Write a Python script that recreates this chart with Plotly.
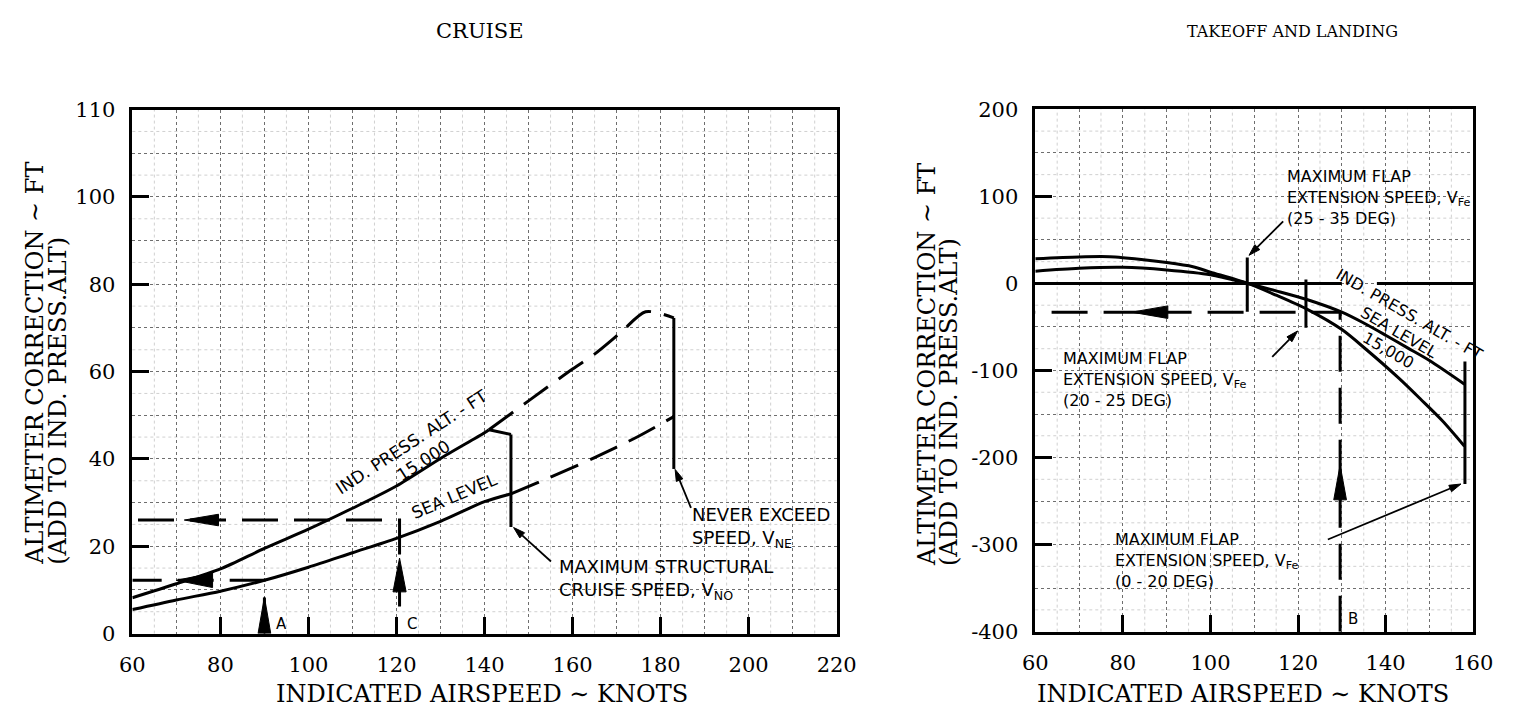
import math
import plotly.graph_objects as go

# ---------------------------------------------------------------------------
# CRUISE: altimeter correction (ft) against indicated airspeed (kt)
# ---------------------------------------------------------------------------
cruise_sl_kt = [60, 70, 80, 90, 100, 110, 120, 130, 140, 146]
cruise_sl_ft = [5.5, 7.7, 9.7, 12.2, 15.2, 18.5, 21.8, 25.7, 30.2, 32.0]
cruise_sl_ext_kt = [146, 155, 165, 175, 183]
cruise_sl_ext_ft = [32.0, 35.8, 40.3, 45.2, 49.7]

cruise_15k_kt = [60, 70, 80, 90, 100, 110, 120, 130, 140, 141]
cruise_15k_ft = [8.2, 11.4, 14.8, 19.5, 23.9, 28.7, 33.8, 40.1, 46.0, 46.7]
cruise_15k_tail_kt = [141, 146]
cruise_15k_tail_ft = [46.7, 45.6]
cruise_15k_ext_kt = [141, 150, 160, 165, 171, 176.6, 183]
cruise_15k_ext_ft = [46.7, 53.3, 60.6, 64.0, 69.0, 73.7, 72.3]

# speed limits: airspeed and the correction span each limit line covers
vno_kt, vno_ft = 146, [24.4, 45.6]
vne_kt, vne_ft = 183, [37.7, 72.3]

cruise_ex_names = ["A", "C"]
cruise_ex_kt = [90, 120.7]
cruise_ex_ft = [12.2, 26.0]

cruise_x_ticks = [60, 80, 100, 120, 140, 160, 180, 200, 220]
cruise_y_ticks = [0, 20, 40, 60, 80, 100, 120]
cruise_y_text = ["0", "20", "40", "60", "80", "100", "110"]

# ---------------------------------------------------------------------------
# TAKEOFF AND LANDING
# ---------------------------------------------------------------------------
tl_sl_kt = [60, 70, 80, 90, 100, 108.5, 115, 122, 130, 135, 140, 145, 150, 158]
tl_sl_ft = [14.1, 17.4, 18.5, 15.5, 10.0, 0.0, -8.5, -18.4, -33.0, -45.5, -59.5,
            -74.0, -88.5, -115.7]
tl_15k_kt = [60, 70, 77, 80, 90, 96, 100, 108.5, 115, 122, 130, 135.5, 143, 148, 153, 158]
tl_15k_ft = [28.5, 30.5, 30.7, 29.6, 24.0, 19.2, 13.0, 0.0, -13.5, -29.5, -53.0, -75.6,
             -108.8, -133.0, -158.0, -187.0]

# zero reference (broken where the curve label crosses it)
tl_zero_kt = [60, 130, None, 138, 160]
tl_zero_ft = [0, 0, None, 0, 0]

# flap extension speed limits
vfe_kt = [108.4, 121.8, 158.1]
vfe_lo_ft = [-32.4, -51.0, -230.4]
vfe_hi_ft = [29.8, 4.6, -89.8]
vfe_deg = ["(25 - 35 DEG)", "(20 - 25 DEG)", "(0 - 20 DEG)"]

tl_ex_names = ["B"]
tl_ex_kt = [129.6]
tl_ex_ft = [-33.0]

tl_x_ticks = [60, 80, 100, 120, 140, 160]
tl_y_ticks = [-400, -300, -200, -100, 0, 100, 200]
tl_y_text = ["-400", "-300", "-200", "-100", "0", "100", "200"]

# ---------------------------------------------------------------------------
# page geometry (pixels)
# ---------------------------------------------------------------------------
W, H = 1518, 720
L_BOX = (122, 842, 101, 643)       # left, right, top, bottom
R_BOX = (1045, 1492.7, 100.7, 641)
L_XR, L_YR = (60, 220), (0, 120)
R_XR, R_YR = (60, 160), (-400, 200)

SERIF = "DejaVu Serif"
SANS = "DejaVu Sans"

fig = go.Figure()
LEFT, RIGHT = ("x", "y"), ("x2", "y2")


def px2paper(x, y):
    return x / W, 1 - y / H


def scale(box, xr, yr):
    return (box[1] - box[0]) / (xr[1] - xr[0]), (box[3] - box[2]) / (yr[1] - yr[0])


kL = scale(L_BOX, L_XR, L_YR)
kR = scale(R_BOX, R_XR, R_YR)


def line(xs, ys, ax, dash=None, width=3, shape="linear"):
    fig.add_trace(go.Scatter(
        x=xs, y=ys, xaxis=ax[0], yaxis=ax[1], mode="lines",
        line=dict(color="black", width=width, dash=dash, shape=shape, smoothing=0.8),
        hoverinfo="skip", showlegend=False, connectgaps=False))


def head(tip, frm, length_px, half_px, ax, k):
    """Filled arrowhead with its point at `tip`, aimed away from `frm`."""
    kx, ky = k
    tx, ty = tip[0] * kx, tip[1] * ky
    fx, fy = frm[0] * kx, frm[1] * ky
    d = math.hypot(tx - fx, ty - fy)
    ux, uy = (tx - fx) / d, (ty - fy) / d
    bx, by = tx - ux * length_px, ty - uy * length_px
    nx, ny = -uy, ux
    pts = [(tx, ty), (bx + nx * half_px, by + ny * half_px),
           (bx - nx * half_px, by - ny * half_px), (tx, ty)]
    fig.add_trace(go.Scatter(
        x=[p[0] / kx for p in pts], y=[p[1] / ky for p in pts],
        xaxis=ax[0], yaxis=ax[1], mode="lines", fill="toself",
        fillcolor="black", line=dict(color="black", width=1),
        hoverinfo="skip", showlegend=False))
    return bx / kx, by / ky


def pointer(tail, tip, ax, k):
    base = head(tip, tail, 12, 3.6, ax, k)
    line([tail[0], base[0]], [tail[1], base[1]], ax, width=1.8)


def label(text, x, y, ax, size=18, xanchor="left", yanchor="middle", angle=0,
          family=SANS, align="left"):
    fig.add_annotation(text=text, x=x, y=y, xref=ax[0], yref=ax[1], showarrow=False,
                       xanchor=xanchor, yanchor=yanchor, textangle=angle, align=align,
                       font=dict(family=family, size=size, color="black"))


def page_text(text, x, y, size, angle=0, family=SERIF, yanchor="middle"):
    px_, py_ = px2paper(x, y)
    fig.add_annotation(text=text, x=px_, y=py_, xref="paper", yref="paper",
                       showarrow=False, xanchor="center", yanchor=yanchor,
                       textangle=angle, font=dict(family=family, size=size, color="black"))


EX_DASH = "36px,16px"
EXT_DASH = "30px,13px"

# ------------------------------- CRUISE ------------------------------------
line(cruise_sl_kt, cruise_sl_ft, LEFT, shape="spline")
line(cruise_sl_ext_kt, cruise_sl_ext_ft, LEFT, dash=EXT_DASH, shape="spline")
line(cruise_15k_kt, cruise_15k_ft, LEFT, shape="spline")
line(cruise_15k_tail_kt, cruise_15k_tail_ft, LEFT)
line(cruise_15k_ext_kt, cruise_15k_ext_ft, LEFT, dash=EXT_DASH, shape="spline")
line([vno_kt, vno_kt], vno_ft, LEFT)
line([vne_kt, vne_kt], vne_ft, LEFT)

# example paths: up from the airspeed, then across to the correction scale
ex_start = {"A": 0.0, "C": 6.2}
for name, kt, ft in zip(cruise_ex_names, cruise_ex_kt, cruise_ex_ft):
    line([kt, kt, L_XR[0]], [ex_start[name], ft, ft], LEFT, dash=EX_DASH)
head((cruise_ex_kt[0], 8.4), (cruise_ex_kt[0], 0), 38, 6.5, LEFT, kL)
head((cruise_ex_kt[1], 17.3), (cruise_ex_kt[1], 0), 35, 6.7, LEFT, kL)
head((70.0, cruise_ex_ft[0]), (90, cruise_ex_ft[0]), 37, 7.5, LEFT, kL)
head((71.8, cruise_ex_ft[1]), (90, cruise_ex_ft[1]), 35, 6.0, LEFT, kL)
label("A", 92.2, 2.2, LEFT, size=15)
label("C", 122.0, 2.2, LEFT, size=15)

label("IND. PRESS. ALT. - FT<br>15,000", 124.8, 41.9, LEFT, size=17,
      xanchor="center", angle=-33, align="center")
label("SEA LEVEL", 133.2, 31.4, LEFT, size=17, xanchor="center", angle=-23)

label("NEVER EXCEED<br>SPEED, V<sub>NE</sub>", 186.6, 24.4, LEFT, size=18)
pointer((186.9, 28.8), (183.3, 37.6), LEFT, kL)
label("MAXIMUM STRUCTURAL<br>CRUISE SPEED, V<sub>NO</sub>", 156.4, 12.4, LEFT, size=18)
pointer((155.1, 16.5), (146.6, 24.3), LEFT, kL)

# ------------------------- TAKEOFF AND LANDING -----------------------------
line(tl_zero_kt, tl_zero_ft, RIGHT)
line(tl_sl_kt, tl_sl_ft, RIGHT, shape="spline")
line(tl_15k_kt, tl_15k_ft, RIGHT, shape="spline")
for kt, lo, hi in zip(vfe_kt, vfe_lo_ft, vfe_hi_ft):
    line([kt, kt], [lo, hi], RIGHT)

for name, kt, ft in zip(tl_ex_names, tl_ex_kt, tl_ex_ft):
    line([kt, kt, R_XR[0]], [R_YR[0], ft, ft], RIGHT, dash=EX_DASH)
head((tl_ex_kt[0], -208.6), (tl_ex_kt[0], -400), 36, 6.5, RIGHT, kR)
head((82.0, tl_ex_ft[0]), (100, tl_ex_ft[0]), 37, 6.5, RIGHT, kR)
label("B", 131.0, -386.0, RIGHT, size=15)

label("IND. PRESS. ALT. - FT<br>SEA LEVEL<br>15,000", 143.0, -56.0, RIGHT, size=16,
      xanchor="center", angle=30, align="center")

vfe_label_pos = [(117.0, 99.1), (65.9, -109.8), (77.8, -318.7)]
for deg, (lx, ly) in zip(vfe_deg, vfe_label_pos):
    label(f"MAXIMUM FLAP<br>EXTENSION SPEED, V<sub>Fe</sub><br>{deg}", lx, ly, RIGHT, size=16)
pointer((116.6, 71.2), (108.8, 32.3), RIGHT, kR)
pointer((114.1, -84.3), (119.9, -54.6), RIGHT, kR)
pointer((126.8, -294.2), (157.2, -230.4), RIGHT, kR)

# ------------------------------ page text ----------------------------------
page_text("CRUISE", 477, 20, 21)
page_text("TAKEOFF AND LANDING", 1308, 20, 16)
page_text("INDICATED AIRSPEED \u223c KNOTS", 479, 705, 24)
page_text("INDICATED AIRSPEED \u223c KNOTS", 1257, 705, 24)
# the two title lines start from the same low point and run upward
page_text("ALTIMETER CORRECTION \u223c FT", 23, 574, 24, angle=-90, yanchor="bottom")
page_text("(ADD TO IND. PRESS.ALT)", 46, 574, 24, angle=-90, yanchor="bottom")
page_text("ALTIMETER CORRECTION \u223c FT", 935, 575, 24, angle=-90, yanchor="bottom")
page_text("(ADD TO IND. PRESS.ALT)", 957, 575, 24, angle=-90, yanchor="bottom")


# faint half-step grid
def faint_grid(xr, yr, xstep, ystep, ax):
    xd = ax[0] + " domain"
    yd = ax[1] + " domain"
    v = xr[0] + xstep / 2
    while v < xr[1]:
        fig.add_shape(type="line", x0=v, x1=v, y0=0, y1=1, xref=ax[0], yref=yd,
                      line=dict(color="#d0d0d0", width=1, dash="dot"), layer="below")
        v += xstep
    v = yr[0] + ystep / 2
    while v < yr[1]:
        fig.add_shape(type="line", y0=v, y1=v, x0=0, x1=1, yref=ax[1], xref=xd,
                      line=dict(color="#d0d0d0", width=1, dash="dot"), layer="below")
        v += ystep


faint_grid(L_XR, L_YR, 10, 10, LEFT)
faint_grid(R_XR, R_YR, 10, 50, RIGHT)

GRID = "#6e6e6e"


def axis(box_lo, box_hi, size, rng, tickvals, ticktext, minor_dtick, minor0, horizontal):
    lo, hi = (box_lo / size, box_hi / size) if horizontal else (1 - box_hi / size, 1 - box_lo / size)
    return dict(
        domain=[lo, hi], range=list(rng), tickmode="array", tickvals=tickvals,
        ticktext=ticktext, ticks="inside", ticklen=17, tickwidth=3, tickcolor="black",
        showline=True, linewidth=2.5, linecolor="black", mirror=True,
        showgrid=True, gridcolor=GRID, griddash="dot", gridwidth=1,
        minor=dict(tick0=minor0, dtick=minor_dtick, showgrid=True, gridcolor=GRID,
                   griddash="dot", gridwidth=1, ticks=""),
        zeroline=False, fixedrange=True, ticklabelstandoff=10,
        tickfont=dict(family=SERIF, size=21, color="black"),
    )


fig.update_layout(
    width=W, height=H, margin=dict(l=0, r=0, t=0, b=0),
    paper_bgcolor="white", plot_bgcolor="white", showlegend=False,
    xaxis=dict(axis(L_BOX[0], L_BOX[1], W, L_XR, cruise_x_ticks, [str(v) for v in cruise_x_ticks],
                    10, 60, True), anchor="y"),
    yaxis=dict(axis(L_BOX[2], L_BOX[3], H, L_YR, cruise_y_ticks, cruise_y_text, 10, 0, False),
               anchor="x"),
    xaxis2=dict(axis(R_BOX[0], R_BOX[1], W, R_XR, tl_x_ticks, [str(v) for v in tl_x_ticks],
                     10, 60, True), anchor="y2"),
    yaxis2=dict(axis(R_BOX[2], R_BOX[3], H, R_YR, tl_y_ticks, tl_y_text, 50, -400, False),
                anchor="x2"),
)

fig.write_html("out.html")
